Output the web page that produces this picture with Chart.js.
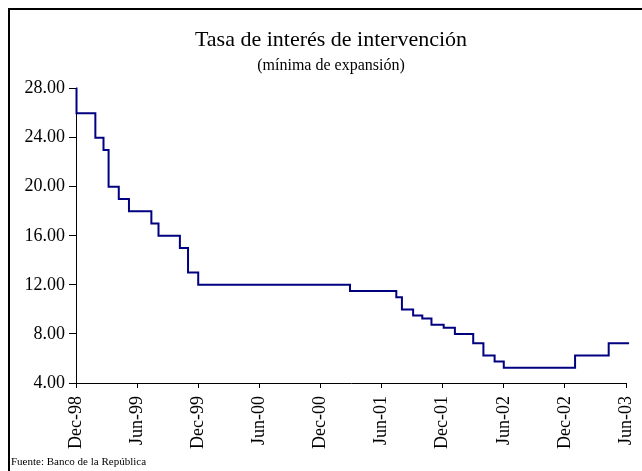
<!DOCTYPE html>
<html>
<head>
<meta charset="utf-8">
<script src="https://cdn.jsdelivr.net/npm/chart.js@4"></script>
<style>
  body { margin: 0; background: #fff; }
  #wrap { position: relative; width: 642px; height: 471px; }
</style>
</head>
<body>
<div id="wrap"><canvas id="chart" width="642" height="471"></canvas></div>
<script>
// months counted from Dec-98 (the first tick), rate in percent
const months = [0, 0.05, 1.9, 2.7, 3.2, 4.2, 5.2, 7.4, 8.1, 10.2, 11.0, 12.0, 26.9, 31.45, 32.0, 33.1, 34.0, 34.9, 36.1, 37.2, 39.0, 40.0, 41.1, 42.0, 49.0, 52.3, 54.3];
const rate = [28, 26, 24, 23, 20, 19, 18, 17, 16, 15, 13, 12, 11.5, 11, 10, 9.5, 9.25, 8.75, 8.5, 8, 7.25, 6.25, 5.75, 5.25, 6.25, 7.25, 7.25];
const tickLabels = ['Dec-98', 'Jun-99', 'Dec-99', 'Jun-00', 'Dec-00', 'Jun-01', 'Dec-01', 'Jun-02', 'Dec-02', 'Jun-03'];
const titleText = 'Tasa de interés de intervención';
const subtitleText = '(mínima de expansión)';
const sourceText = 'Fuente: Banco de la República';

const serif = "'Liberation Serif', 'Times New Roman', serif";
Chart.defaults.font.family = serif;
Chart.defaults.color = '#000';

// frame lines on the left and top, plus the source note
const framePlugin = {
  id: 'frame',
  afterLayout(chart) {
    // nudge the title and subtitle a bit right, like the original
    chart.boxes.forEach(b => {
      if (b.options && typeof b.options.text === 'string') {
        b.left += 8;
        b.right += 8;
      }
    });
  },
  afterDraw(chart) {
    const ctx = chart.ctx;
    ctx.save();
    ctx.strokeStyle = '#000';
    ctx.lineWidth = 2;
    ctx.beginPath();
    ctx.moveTo(9, chart.height);
    ctx.lineTo(9, 9);
    ctx.lineTo(chart.width, 9);
    ctx.stroke();
    ctx.font = '11px ' + serif;
    ctx.fillStyle = '#000';
    ctx.textBaseline = 'alphabetic';
    ctx.fillText(sourceText, 11, 465);
    ctx.restore();
  }
};

const points = months.map((m, i) => ({x: m, y: rate[i]}));

new Chart(document.getElementById('chart').getContext('2d'), {
  type: 'line',
  data: {
    datasets: [{
      data: points,
      borderColor: '#000080',
      borderWidth: 2,
      pointRadius: 0,
      stepped: true,
      fill: false,
      clip: false
    }]
  },
  options: {
    responsive: false,
    animation: false,
    layout: { padding: { left: 20, right: 16, top: 27, bottom: 0 } },
    plugins: {
      legend: { display: false },
      tooltip: { enabled: false },
      title: {
        display: true,
        text: titleText,
        font: { size: 22, weight: 'normal', family: serif },
        color: '#000',
        padding: { top: 0, bottom: 0 }
      },
      subtitle: {
        display: true,
        text: subtitleText,
        font: { size: 16, weight: 'normal', family: serif },
        color: '#000',
        padding: { top: 3, bottom: 13 }
      }
    },
    scales: {
      x: {
        type: 'linear',
        min: 0,
        max: 54,
        afterFit: s => {
          s.height = 88;
          s.paddingLeft = 0;
          s.paddingRight = 0;
        },
        ticks: {
          stepSize: 6,
          autoSkip: false,
          maxRotation: 90,
          minRotation: 90,
          padding: 8,
          font: { size: 18, family: serif },
          color: '#000',
          callback: v => tickLabels[Math.round(v / 6)]
        },
        grid: { drawOnChartArea: false, drawTicks: true, tickLength: 5, color: '#000' },
        border: { color: '#000', width: 1 }
      },
      y: {
        min: 4,
        max: 28,
        afterFit: s => { s.width = 56; },
        ticks: {
          stepSize: 4,
          padding: 4,
          font: { size: 18, family: serif },
          color: '#000',
          callback: v => v.toFixed(2)
        },
        grid: { drawOnChartArea: false, drawTicks: true, tickLength: 7, color: '#000' },
        border: { color: '#000', width: 1 }
      }
    }
  },
  plugins: [framePlugin]
});
</script>
</body>
</html>
